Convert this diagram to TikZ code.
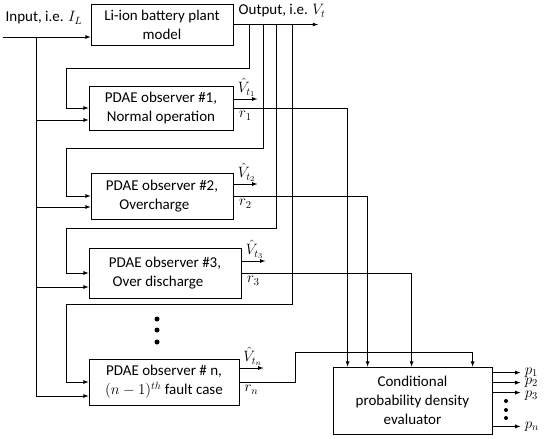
\documentclass[tikz,border=0pt]{standalone}
\usepackage{fix-cm}
\usepackage{amsmath}
\usepackage{fontspec}
\setmainfont{Carlito}
\usepackage{tikz}
\usetikzlibrary{calc,arrows}

\begin{document}
\begin{tikzpicture}
[x=1pt, y=-1pt, line width=0.8pt, >=latex,
 blk/.style={draw, align=center, inner sep=2pt, font=\fontsize{15}{19}\selectfont},
 lbl/.style={inner sep=1pt, font=\fontsize{15}{17}\selectfont}]
    \useasboundingbox (0,0) rectangle (550,439);
    \node[blk, minimum width=142, minimum height=41] (plant) at (162,24.5) {Li-ion battery plant\\model};
    \node[blk, minimum width=144, minimum height=44] (obs1) at (161,108) {PDAE observer \#1,\\Normal operation};
    \node[blk, minimum width=142, minimum height=46, align=left] (obs2) at (162,196) {PDAE observer \#2,\\\hspace*{0.9em}Overcharge};
    \node[blk, minimum width=152, minimum height=50, align=left] (obs3) at (165,273) {PDAE observer \#3,\\\hspace*{0.25em}Over discharge};
    \node[blk, minimum width=150, minimum height=46] (obsn) at (164,382) {PDAE observer \# n,\\$(n-1)^{th}$ fault case};
    \node[blk, minimum width=159, minimum height=67] (eval) at (412.5,400.5) {Conditional\\probability density\\evaluator};
    \coordinate (in) at (3,37);
    \coordinate (bus) at (36,37);
    \coordinate (out) at (318,24.5);
    \node[lbl] (inlbl) at (44,18) {Input, i.e. $I_L$};
    \node[lbl] (outlbl) at (282,11) {Output, i.e. $V_t$};
    \draw[->] (in) -- (in -| plant.west);
    \draw[->] (plant.east) -- (out);
    \draw[->] (bus) |- ($(obs1.west)+(0,12)$);
    \draw[->] (bus) |- ($(obs2.west)+(0,11)$);
    \draw[->] (bus) |- ($(obs3.west)+(0,14)$);
    \draw[->] (bus) |- ($(obsn.west)+(0,14)$);
    \coordinate (t1) at (249,24.5);
    \coordinate (t2) at (263,24.5);
    \coordinate (t3) at (276,24.5);
    \coordinate (t4) at (292,24.5);
    \coordinate (fb1) at (66,68);
    \coordinate (fb2) at (66,148);
    \coordinate (fb3) at (66,228);
    \coordinate (fb4) at (66,304);
    \draw[->] (t1) |- (fb1) |- (obs1.west);
    \draw[->] (t2) |- (fb2) |- (obs2.west);
    \draw[->] (t3) |- (fb3) |- (obs3.west);
    \draw[->] (t4) |- (fb4) |- (obsn.west);
    \draw[->] ($(obs1.east)+(0,-9)$) -- ++(24,0) node[lbl, pos=0.55, above=1pt] (vh1) {$\hat{V}_{t_1}$};
    \draw[->] ($(obs2.east)+(0,-12)$) -- ++(24,0) node[lbl, pos=0.55, above=1pt] (vh2) {$\hat{V}_{t_2}$};
    \draw[->] ($(obs3.east)+(0,-12)$) -- ++(24,0) node[lbl, pos=0.55, above=1pt] (vh3) {$\hat{V}_{t_3}$};
    \draw[->] ($(obsn.east)+(0,-14)$) -- ++(24,0) node[lbl, pos=0.55, above=1pt] (vhn) {$\hat{V}_{t_n}$};
    \node[lbl, below] (r1) at ($(obs1.east)+(12,2)$) {$r_1$};
    \node[lbl, below] (r2) at ($(obs2.east)+(12,2)$) {$r_2$};
    \node[lbl, below] (r3) at ($(obs3.east)+(12,2)$) {$r_3$};
    \node[lbl, below] (rn) at ($(obsn.east)+(12,2)$) {$r_n$};
    \coordinate (rnb) at (295,352);
    \draw[->] (obs1.east) -| ($(eval.north west)+(15,0)$);
    \draw[->] (obs2.east) -| ($(eval.north west)+(35,0)$);
    \draw[->] (obs3.east) -| ($(eval.north west)+(79,0)$);
    \draw[->] (obsn.east) -| (rnb) -| ($(eval.north west)+(140,0)$);
    \draw[->] ($(eval.north east)+(0,6)$) -- ++(28,0) node[lbl, right=3pt] (p1) {$p_1$};
    \draw[->] ($(eval.north east)+(0,16)$) -- ++(28,0) node[lbl, right=3pt] (p2) {$p_2$};
    \draw[->] ($(eval.north east)+(0,26)$) -- ++(28,0) node[lbl, right=3pt, yshift=-3pt] (p3) {$p_3$};
    \draw[->] ($(eval.south east)+(0,-8)$) -- ++(28,0) node[lbl, right=3pt] (pn) {$p_n$};
    \fill (157,319) circle (2.5) (157,330) circle (2.5) (157,342) circle (2.5);
    \fill (506,401) circle (2) (506,410) circle (2) (506,418) circle (2);
\end{tikzpicture}
\end{document}
